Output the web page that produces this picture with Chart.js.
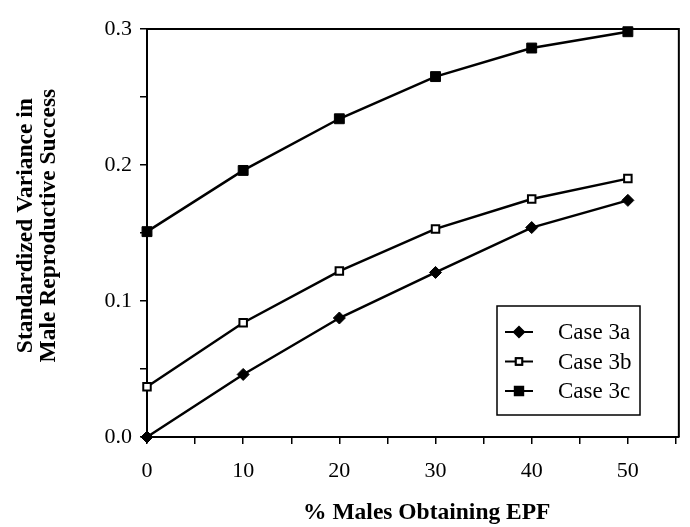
<!DOCTYPE html>
<html>
<head>
<meta charset="utf-8">
<script src="https://cdn.jsdelivr.net/npm/chart.js@4.4.1/dist/chart.umd.min.js"></script>
<style>
  html, body { margin: 0; padding: 0; background: #fff; }
  canvas { display: block; }
</style>
</head>
<body>
<canvas id="epfChart" width="690" height="527"></canvas>
<script>
// values
const pctMales = [0, 10, 20, 30, 40, 50];
const case3a = [0, 0.046, 0.0875, 0.121, 0.154, 0.174];
const case3b = [0.037, 0.084, 0.122, 0.153, 0.175, 0.190];
const case3c = [0.151, 0.196, 0.234, 0.265, 0.286, 0.298];
const seriesNames = ["Case 3a", "Case 3b", "Case 3c"];
const yTitle = ["Standardized Variance in", "Male Reproductive Success"];
const xTitle = "% Males Obtaining EPF";

const SERIF = "'Liberation Serif', 'Times New Roman', serif";

function toPoints(vals) {
  return pctMales.map((x, i) => ({ x: x, y: vals[i] }));
}

// frame on top/right, axis titles, legend box inside the plot
const frameAndLegend = {
  id: "frameAndLegend",
  afterDraw(chart) {
    const { ctx, chartArea: a } = chart;
    ctx.save();
    ctx.strokeStyle = "#000";
    ctx.lineWidth = 2;
    ctx.beginPath();
    ctx.moveTo(a.left, a.top);
    ctx.lineTo(a.right, a.top);
    ctx.lineTo(a.right, a.bottom);
    ctx.stroke();

    // axis titles (sit a bit off-centre in the original)
    ctx.fillStyle = "#000";
    ctx.font = "bold 23.5px " + SERIF;
    ctx.textAlign = "center";
    ctx.textBaseline = "alphabetic";
    ctx.fillText(xTitle, a.left + (a.right - a.left) * 0.526, a.bottom + 82);
    yTitle.forEach((line, i) => {
      ctx.save();
      ctx.translate(32 + i * 23, a.top + (a.bottom - a.top) * 0.482);
      ctx.rotate(-Math.PI / 2);
      ctx.fillText(line, 0, 0);
      ctx.restore();
    });

    // legend
    const bx = a.left + 350, by = a.top + 277, bw = 143, bh = 109;
    ctx.fillStyle = "#fff";
    ctx.fillRect(bx, by, bw, bh);
    ctx.lineWidth = 1.5;
    ctx.strokeRect(bx, by, bw, bh);
    ctx.font = "23px " + SERIF;
    ctx.textBaseline = "middle";
    ctx.textAlign = "left";
    chart.data.datasets.forEach((ds, i) => {
      const y = by + 26 + i * 29.5;
      ctx.strokeStyle = "#000";
      ctx.lineWidth = 2;
      ctx.beginPath();
      ctx.moveTo(bx + 8, y);
      ctx.lineTo(bx + 36, y);
      ctx.stroke();
      Chart.helpers.drawPoint(ctx, {
        pointStyle: ds.pointStyle,
        radius: ds.pointRadius * 0.85,
        borderWidth: ds.pointBorderWidth,
        rotation: 0
      }, bx + 22, y);
      ctx.fillStyle = ds.pointBackgroundColor;
      ctx.strokeStyle = "#000";
      ctx.lineWidth = ds.pointBorderWidth;
      ctx.fill();
      ctx.stroke();
      ctx.fillStyle = "#000";
      ctx.fillText(ds.label, bx + 61, y + 1);
    });
    ctx.restore();
  }
};

const gridOpts = {
  display: true,
  drawOnChartArea: false,
  drawTicks: true,
  tickLength: 7,
  color: "#000",
  lineWidth: 1.5
};

new Chart(document.getElementById("epfChart"), {
  type: "line",
  data: {
    datasets: [
      {
        label: seriesNames[0],
        data: toPoints(case3a),
        borderColor: "#000",
        borderWidth: 2.5,
        pointStyle: "rectRot",
        pointRadius: 6,
        pointBackgroundColor: "#000",
        pointBorderColor: "#000",
        pointBorderWidth: 1,
        clip: false,
        tension: 0
      },
      {
        label: seriesNames[1],
        data: toPoints(case3b),
        borderColor: "#000",
        borderWidth: 2.5,
        pointStyle: "rect",
        pointRadius: 5.3,
        pointBackgroundColor: "#fff",
        pointBorderColor: "#000",
        pointBorderWidth: 2,
        clip: false,
        tension: 0
      },
      {
        label: seriesNames[2],
        data: toPoints(case3c),
        borderColor: "#000",
        borderWidth: 2.5,
        pointStyle: "rect",
        pointRadius: 7,
        pointBackgroundColor: "#000",
        pointBorderColor: "#000",
        pointBorderWidth: 1,
        clip: false,
        tension: 0
      }
    ]
  },
  options: {
    responsive: false,
    animation: false,
    devicePixelRatio: 1,
    layout: { padding: { top: 29, right: 6, left: 0, bottom: 0 } },
    plugins: {
      legend: { display: false },
      tooltip: { enabled: false }
    },
    scales: {
      x: {
        type: "linear",
        min: 0,
        max: 55.3,
        grid: gridOpts,
        border: { display: true, color: "#000", width: 2 },
        ticks: {
          stepSize: 5,
          includeBounds: false,
          autoSkip: false,
          maxRotation: 0,
          padding: 14,
          color: "#000",
          font: { family: SERIF, size: 22 },
          callback: v => (v % 10 === 0 ? String(v) : "")
        },
        title: { display: false },
        afterFit: s => { s.height = 90; }
      },
      y: {
        type: "linear",
        min: 0,
        max: 0.3,
        grid: gridOpts,
        border: { display: true, color: "#000", width: 2 },
        ticks: {
          stepSize: 0.05,
          autoSkip: false,
          padding: 8,
          color: "#000",
          font: { family: SERIF, size: 22 },
          callback: v => {
            const r = Math.round(v * 100);
            return r % 10 === 0 ? (r / 100).toFixed(1) : "";
          }
        },
        title: { display: false },
        afterFit: s => { s.width = 147; }
      }
    }
  },
  plugins: [frameAndLegend]
});
</script>
</body>
</html>
